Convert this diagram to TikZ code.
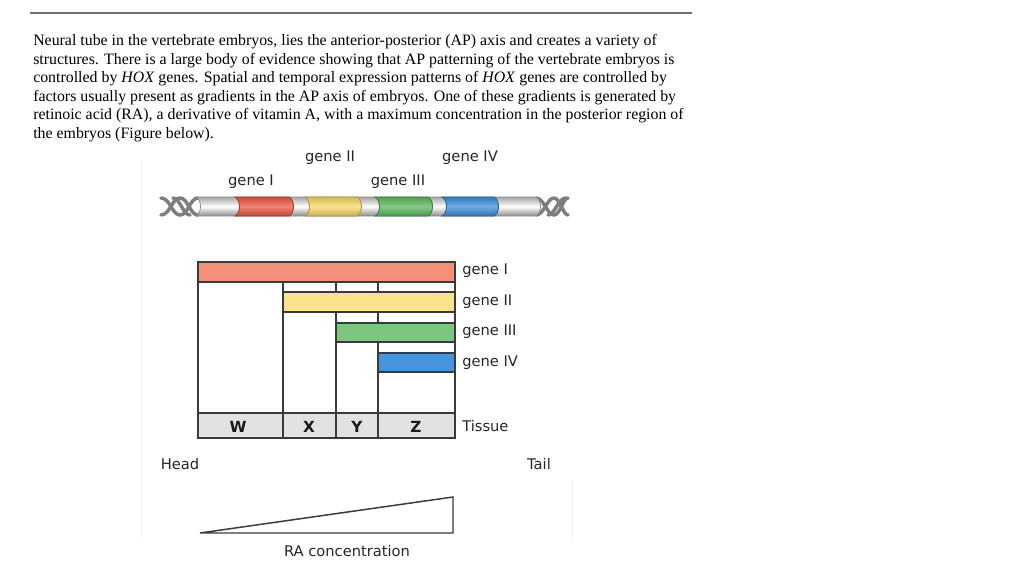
\documentclass[tikz,border=0pt]{standalone}
\usepackage{fontspec}
\setmainfont{Liberation Serif}
\newfontfamily\figsans{DejaVu Sans}
\usetikzlibrary{calc}
\definecolor{rulegray}{HTML}{6E6E6E}
\definecolor{boxline}{HTML}{3A3A3A}
\definecolor{barred}{HTML}{F4907A}
\definecolor{baryellow}{HTML}{FAE38C}
\definecolor{bargreen}{HTML}{7CC67D}
\definecolor{barblue}{HTML}{4A94DC}
\definecolor{tissuegray}{HTML}{E2E2E2}
\definecolor{dnared}{HTML}{EC5A45}
\definecolor{dnayellow}{HTML}{F8DA66}
\definecolor{dnagreen}{HTML}{5FBA60}
\definecolor{dnablue}{HTML}{3F90DC}
\definecolor{helixgray}{HTML}{7E7E7E}
\definecolor{framegray}{HTML}{F4F4F4}
\tikzset{
  tbl/.style={draw=boxline, line width=1.2pt},
  lab/.style={font=\figsans\fontsize{11}{13}\selectfont, text=black!85, inner sep=0pt},
  tis/.style={font=\figsans\bfseries\fontsize{11.5}{13}\selectfont, text=black!90, inner sep=0pt},
  tube/.style={draw=black!45, line width=0.6pt, top color=black!35, bottom color=black!45, middle color=white},
  seg/.style={line width=0.7pt},
  helix/.style={draw=helixgray, line width=2.6pt, line cap=round},
}
\begin{document}
\begin{tikzpicture}[x=0.75pt, y=-0.75pt]
\fill[white] (0,0) rectangle (1024,574);
\useasboundingbox (0,0) rectangle (1024,574);

% top rule
\draw[rulegray, line width=0.9pt] (30,13) -- (692,13);

% paragraph
\node[anchor=north west, inner sep=0pt, align=left, font=\fontsize{11.9}{13.95}\selectfont] (para) at (33,34)
{Neural tube in the vertebrate embryos, lies the anterior-posterior (AP) axis and creates a variety of\\
structures. There is a large body of evidence showing that AP patterning of the vertebrate embryos is\\
controlled by \textit{HOX} genes. Spatial and temporal expression patterns of \textit{HOX} genes are controlled by\\
factors usually present as gradients in the AP axis of embryos. One of these gradients is generated by\\
retinoic acid (RA), a derivative of vitamin A, with a maximum concentration in the posterior region of\\
the embryos (Figure below).};

% faint figure frame
\draw[framegray, line width=0.6pt] (141,160) -- (141,540);
\draw[framegray, line width=0.6pt] (572,480) -- (572,540);

% gene labels above DNA
\node[lab] (lg2) at (330,158) {gene II};
\node[lab] (lg4) at (470,158) {gene IV};
\node[lab] (lg1) at (251,182) {gene I};
\node[lab] (lg3) at (398,182) {gene III};

% DNA helix ends
\draw[helix] (161,198) .. controls (170,198) and (172,215) .. (180,215) .. controls (188,215) and (190,198) .. (198,198);
\draw[helix] (161,215) .. controls (170,215) and (172,198) .. (180,198) .. controls (188,198) and (190,215) .. (198,215);
\draw[helix] (173,198) .. controls (180,198) and (183,215) .. (190,215);
\draw[helix] (536,198) .. controls (544,198) and (547,215) .. (554,215) .. controls (560,215) and (563,198) .. (568,198);
\draw[helix] (536,215) .. controls (544,215) and (547,198) .. (554,198) .. controls (560,198) and (563,215) .. (568,215);
\draw[helix] (548,215) .. controls (555,215) and (558,198) .. (566,198);

% tube
\path[tube] (196,197) -- (536,197) .. controls (542,200) and (542,213) .. (536,216) -- (196,216) .. controls (202,213) and (202,200) .. (196,197) -- cycle;

% coloured gene segments
\foreach \a/\b/\c in {235/289/dnared, 305/357/dnayellow, 375/428/dnagreen, 442/494/dnablue}{
  \path[seg, draw=\c!70!black, top color=\c!85!black, bottom color=\c!80!black, middle color=\c!75!white]
    (\a,197) -- (\b,197) .. controls (\b+6,200) and (\b+6,213) .. (\b,216) -- (\a,216) .. controls (\a+6,213) and (\a+6,200) .. (\a,197) -- cycle;
}

% expression table
\coordinate (tl) at (198,262);
\coordinate (br) at (455,438);
\fill[white] (tl) rectangle (br);
\draw[tbl, fill=tissuegray] (198,413) rectangle (455,438);
\draw[tbl] (283,282) -- (283,438);
\draw[tbl] (336,282) -- (336,438);
\draw[tbl] (378,282) -- (378,438);
\draw[tbl, fill=barred] (198,262) rectangle (455,282);
\draw[tbl, fill=baryellow] (283,292) rectangle (455,312);
\draw[tbl, fill=bargreen] (336,323) rectangle (455,342);
\draw[tbl, fill=barblue] (378,353) rectangle (455,372);
\draw[tbl] (tl) rectangle (br);

% right labels
\node[lab, anchor=west] (r1) at (462,271) {gene I};
\node[lab, anchor=west] (r2) at (462,302) {gene II};
\node[lab, anchor=west] (r3) at (462,332) {gene III};
\node[lab, anchor=west] (r4) at (462,363) {gene IV};
\node[lab, anchor=west] (r5) at (462,426) {Tissue};

% tissue labels
\node[tis] (tw) at (238,427) {W};
\node[tis] (tx) at (309,427) {X};
\node[tis] (ty) at (357,427) {Y};
\node[tis] (tz) at (416,427) {Z};

% head / tail
\node[lab] (head) at (180,464) {Head};
\node[lab] (tail) at (539,464) {Tail};

% RA gradient
\coordinate (ra1) at (200,533);
\coordinate (ra2) at (453,533);
\coordinate (ra3) at (453,497);
\draw[draw=boxline, line width=1.1pt, line join=miter] (ra1) -- (ra2) -- (ra3) -- cycle;
\node[lab] (ra) at (347,551) {RA concentration};
\end{tikzpicture}
\end{document}
